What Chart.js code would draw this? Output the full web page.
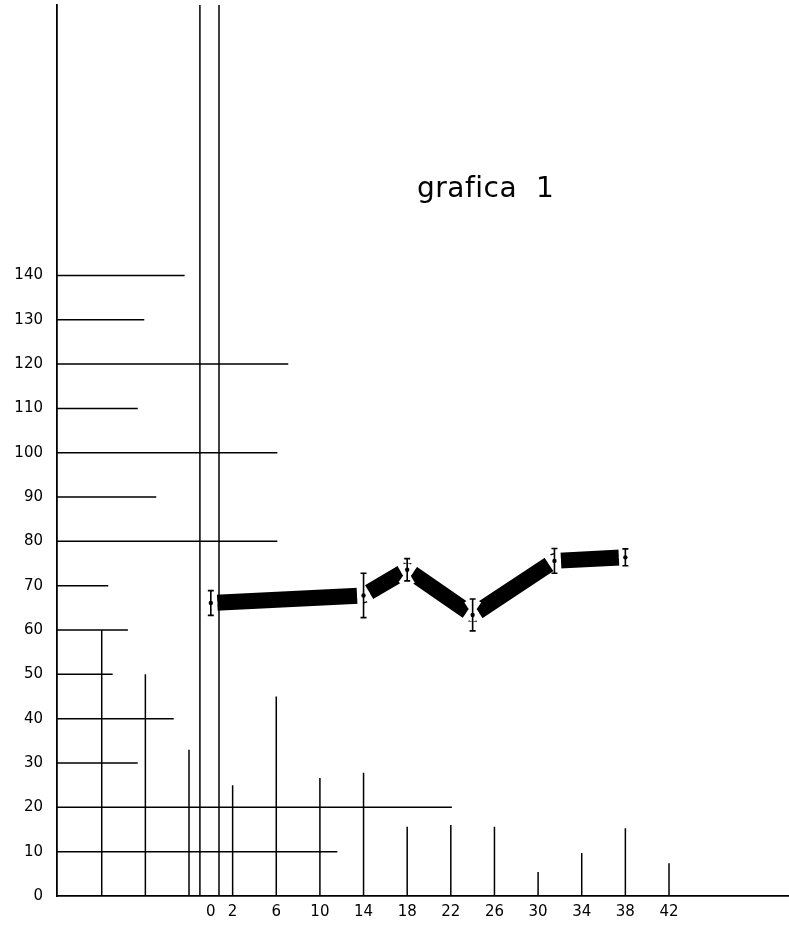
<!DOCTYPE html>
<html>
<head>
<meta charset="utf-8">
<script src="https://cdn.jsdelivr.net/npm/chart.js@4/dist/chart.umd.min.js"></script>
<style>
  html, body { margin: 0; padding: 0; background: #fff; }
  #wrap { width: 789px; height: 928px; position: relative; }
</style>
</head>
<body>
<div id="wrap"><canvas id="c"></canvas></div>
<script>
// Axis ticks
const xTicks = [0, 2, 6, 10, 14, 18, 22, 26, 30, 34, 38, 42];
const yTicks = [0, 10, 20, 30, 40, 50, 60, 70, 80, 90, 100, 110, 120, 130, 140];

// Axis ranges
const X_MIN = -14.1;
const X_MAX = 53;
const Y_MAX = 201;

// Reference lines drawn across from the y axis: level and where each stops
const hLevels = [140, 130, 120, 110, 100, 90, 80, 70, 60, 50, 40, 30, 20, 10];
const hEnds = [-2.4, -6.1, 7.1, -6.7, 6.1, -5.0, 6.1, -9.4, -7.6, -9.0, -3.4, -6.7, 22.1, 11.6];

// Vertical rules standing on the x axis: position and height
const vPositions = [-10, -6, -2, -1, 0.75, 2, 6, 10, 14, 18, 22, 26, 30, 34, 38, 42];
const vHeights = [60, 50, 33, 201, 201, 25, 45, 26.6, 27.8, 15.6, 16, 15.6, 5.4, 9.7, 15.3, 7.4];

// Measured series: time, mean and error half-range
const times = [0, 14, 18, 24, 31.5, 38];
const means = [66.1, 67.8, 73.6, 63.4, 75.6, 76.4];
const errs = [2.8, 5.0, 2.5, 3.6, 2.8, 1.9];

const INK = '#000';

// Build broken line data (null y breaks the path)
const hData = [];
hLevels.forEach((lv, i) => {
  hData.push({ x: X_MIN, y: lv }, { x: hEnds[i], y: lv }, { x: hEnds[i], y: null });
});
const vData = [];
vPositions.forEach((p, i) => {
  vData.push({ x: p, y: 0 }, { x: p, y: vHeights[i] }, { x: p, y: null });
});
const seriesData = times.map((t, i) => ({ x: t, y: means[i] }));

// White page behind the chart
const paper = {
  id: 'paper',
  beforeDraw(chart) {
    const ctx = chart.ctx;
    ctx.save();
    ctx.fillStyle = '#fff';
    ctx.fillRect(0, 0, chart.width, chart.height);
    ctx.restore();
  }
};

// Breaks in the thick line around each point, then the error bars
const errorBars = {
  id: 'errorBars',
  afterDatasetsDraw(chart) {
    const ctx = chart.ctx;
    const xs = chart.scales.x, ys = chart.scales.y;
    const pts = times.map((t, i) => ({ x: xs.getPixelForValue(t), y: ys.getPixelForValue(means[i]) }));
    const gap = 6.5;
    ctx.save();
    ctx.fillStyle = '#fff';
    ctx.strokeStyle = '#fff';
    ctx.lineCap = 'butt';
    pts.forEach((p, i) => {
      ctx.beginPath();
      ctx.arc(p.x, p.y, gap, 0, Math.PI * 2);
      ctx.fill();
      [i - 1, i + 1].forEach(j => {
        if (j < 0 || j >= pts.length) return;
        const dx = pts[j].x - p.x, dy = pts[j].y - p.y;
        const len = Math.hypot(dx, dy);
        ctx.lineWidth = 30;
        ctx.beginPath();
        ctx.moveTo(p.x, p.y);
        ctx.lineTo(p.x + dx / len * gap, p.y + dy / len * gap);
        ctx.stroke();
      });
    });
    ctx.strokeStyle = INK;
    ctx.fillStyle = INK;
    ctx.lineWidth = 1.6;
    times.forEach((t, i) => {
      const px = xs.getPixelForValue(t);
      const top = ys.getPixelForValue(means[i] + errs[i]);
      const bot = ys.getPixelForValue(means[i] - errs[i]);
      const mid = ys.getPixelForValue(means[i]);
      ctx.beginPath();
      ctx.moveTo(px, top); ctx.lineTo(px, bot);
      ctx.moveTo(px - 3, top); ctx.lineTo(px + 3, top);
      ctx.moveTo(px - 3, bot); ctx.lineTo(px + 3, bot);
      ctx.stroke();
      ctx.beginPath();
      ctx.arc(px, mid, 2.2, 0, Math.PI * 2);
      ctx.fill();
    });
    ctx.restore();
  }
};

// Caption inside the plot area
const caption = {
  id: 'caption',
  afterDraw(chart) {
    const ctx = chart.ctx;
    ctx.save();
    ctx.fillStyle = INK;
    ctx.font = '28px "DejaVu Sans"';
    ctx.letterSpacing = '0.5px';
    ctx.textAlign = 'left';
    ctx.textBaseline = 'alphabetic';
    ctx.fillText('grafica', 417, 197);
    ctx.fillText('1', 536, 197);
    ctx.restore();
  }
};

new Chart(document.getElementById('c'), {
  type: 'line',
  data: {
    datasets: [
      {
        label: 'serie',
        data: seriesData,
        borderColor: INK,
        borderWidth: 16,
        borderCapStyle: 'butt',
        borderJoinStyle: 'bevel',
        pointRadius: 0,
        fill: false,
        tension: 0,
        order: 0
      },
      {
        label: 'h',
        data: hData,
        borderColor: INK,
        borderWidth: 1.5,
        pointRadius: 0,
        spanGaps: false,
        fill: false,
        order: 1
      },
      {
        label: 'v',
        data: vData,
        borderColor: INK,
        borderWidth: 1.5,
        pointRadius: 0,
        spanGaps: false,
        fill: false,
        order: 1
      }
    ]
  },
  options: {
    responsive: true,
    maintainAspectRatio: false,
    animation: false,
    events: [],
    layout: { padding: { top: 5, right: 0, left: 0, bottom: 0 } },
    plugins: {
      legend: { display: false },
      tooltip: { enabled: false },
      title: { display: false }
    },
    scales: {
      x: {
        type: 'linear',
        min: X_MIN,
        max: X_MAX,
        grid: { display: false, drawTicks: false },
        border: { display: true, color: INK, width: 1.8 },
        afterBuildTicks: s => { s.ticks = xTicks.map(v => ({ value: v })); },
        afterFit: s => { s.height = 32; s.paddingLeft = 0; s.paddingRight = 0; },
        ticks: {
          color: INK,
          padding: 7,
          autoSkip: false,
          maxRotation: 0,
          font: { family: 'DejaVu Sans', size: 15 },
          callback: v => String(v)
        }
      },
      y: {
        type: 'linear',
        min: 0,
        max: Y_MAX,
        grid: { display: false, drawTicks: false },
        border: { display: true, color: INK, width: 1.8 },
        afterBuildTicks: s => { s.ticks = yTicks.map(v => ({ value: v })); },
        afterFit: s => { s.width = 57; s.paddingTop = 0; s.paddingBottom = 0; },
        ticks: {
          color: INK,
          padding: 14,
          autoSkip: false,
          font: { family: 'DejaVu Sans', size: 15 },
          callback: v => String(v)
        }
      }
    }
  },
  plugins: [paper, errorBars, caption]
});
</script>
</body>
</html>
